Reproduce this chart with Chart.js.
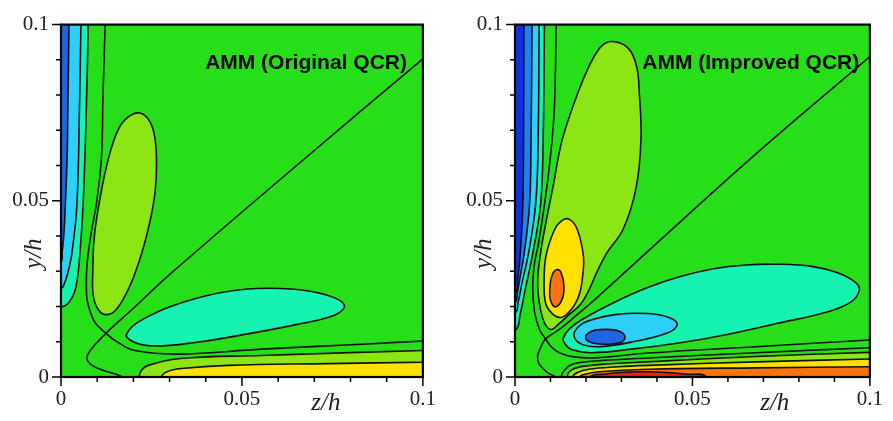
<!DOCTYPE html>
<html>
<head>
<meta charset="utf-8">
<script src="https://cdn.jsdelivr.net/npm/chart.js@4.4.1/dist/chart.umd.min.js"></script>
<style>
  html, body { margin: 0; padding: 0; background: #fff; }
  .wrap { display: flex; width: 893px; height: 421px; }
</style>
</head>
<body>
<div class="wrap">
  <canvas id="chart1" width="446" height="421"></canvas>
  <canvas id="chart2" width="447" height="421"></canvas>
</div>
<script>
// contour lines, [z/h, y/h] in units of 0.001
// tick labels
const tickValues = [0, 0.05, 0.1]
const tickLabels = ['0', '0.05', '0.1']

// left panel: AMM (Original QCR)
const origWallAqua = [[-8,110],[7.5,110],[7.5,100],[7.0,76.5],[6.1,48.9],[5.0,32.3],[4.1,25.4],[3.0,22.4],[1.4,20.4],[0,19.9],[-8,19.6]]
const origWallCyan = [[-8,110],[5.5,110],[5.5,100],[5.1,76.5],[4.4,48.9],[3.0,35.1],[1.9,29.6],[0.8,26.2],[0,25.1],[-8,24.8]]
const origWallBlue = [[-8,110],[2.2,110],[2.2,100],[1.9,76.5],[1.7,62.7],[1.2,48.9],[0.8,40.6],[0.3,35.1],[0,32.9],[-8,32.6]]
const origLobeYG = [[21.8,74.9],[24.6,72.4],[26.0,67.4],[26.4,59.9],[26.0,52.5],[24.6,44.2],[22.3,35.1],[19.1,26.0],[15.4,19.3],[12.6,17.7],[10.3,19.1],[8.9,23.2],[8.8,30.4],[9.2,39.8],[10.8,50.8],[13.1,61.9],[15.8,70.2],[18.6,73.8]]
const origLobeAqua = [[18.1,12.1],[23.2,16.7],[37.0,22.2],[50.8,24.9],[64.6,24.9],[73.8,23.1],[78.3,20.4],[75.7,17.6],[64.6,14.8],[50.8,12.1],[37.0,9.8],[26.0,8.8],[20.4,9.8]]
const origBandYG = [[114,-12],[21.6,-12],[21.6,0],[22.3,2.0],[24.1,3.3],[32.4,5.2],[55.4,6.1],[100,7.5],[114,7.8]]
const origBandYellow = [[114,-12],[27.8,-12],[27.8,0],[29.3,1.5],[33.3,2.4],[46.2,3.3],[73.8,3.8],[100,4.2],[114,4.3]]
const origZeroA = [[12.3,108],[12.2,100],[11.6,80],[11.2,62.7],[9.9,50],[8.2,40],[7.2,32],[7.0,26],[7.3,21.5],[9.2,15.8],[12.4,12.4],[15.8,9.8],[20.4,7.5],[32.4,6.5],[55.4,7.9],[83.1,9.3],[100,10.2],[108,10.5]]
const origZeroB = [[19.5,-1.2],[15.2,0.8],[11.6,1.9],[8.6,3.3],[7.2,5.0],[7.7,6.9],[9.9,9.7],[12.4,12.4],[20,19.5],[30.6,29.6],[66,60.8],[100,90.3],[108,97.2]]

// right panel: AMM (Improved QCR)
const imprWallAqua = [[-8,110],[8.3,110],[8.3,100],[7.9,65.5],[7.2,48.9],[5.0,35.1],[3.0,25.4],[1.5,18.0],[0,13.3],[-8,12.8]]
const imprWallCyan = [[-8,110],[6.8,110],[6.8,100],[6.5,65.5],[5.8,48.9],[3.8,35.1],[2.0,26.8],[0.9,21.3],[0,18.2],[-8,17.8]]
const imprWallBlue = [[-8,110],[4.8,110],[4.8,100],[4.5,65.5],[4.1,48.9],[2.6,35.1],[1.4,28.2],[0.6,23.5],[0,21.3],[-8,21]]
const imprWallDark = [[-8,110],[2.5,110],[2.5,100],[2.4,65.5],[2.2,48.9],[1.5,35.1],[0.8,28.2],[0,24.0],[-8,23.7]]
const imprLobeYG = [[27.6,95.2],[30.5,94.4],[32.7,92.3],[34.4,87.5],[35.0,81.1],[35.5,67.4],[34.1,53.6],[30.5,42.0],[25.8,35.1],[23.0,29.6],[20.8,24.6],[18.3,20.4],[15.2,17.7],[12.5,15.2],[10.0,13.5],[7.8,16.7],[6.4,25.9],[7.2,35.1],[8.9,44.8],[10.8,54.4],[13.3,67.3],[17.9,81.1],[21.0,88.5],[23.6,93.0],[25.5,94.8]]
const imprLobeYellow = [[15.2,44.8],[17.5,42.0],[19.3,34.2],[19.1,29.0],[18.3,24.0],[16.9,20.7],[15.0,18.2],[13.0,16.9],[10.8,17.7],[8.7,20.7],[8.2,26.8],[8.7,34.2],[11.0,41.5],[13.0,44.2]]
const imprLobeOrange = [[11.9,30.5],[13.0,29.6],[13.8,25.9],[13.3,22.1],[11.4,19.9],[10.0,21.8],[9.8,24.9],[10.5,29.0]]
const imprLobeAqua = [[13.6,11.0],[15.2,13.5],[18.9,16.3],[28.2,21.3],[37.4,25.4],[46.6,28.5],[55.9,30.7],[65.1,31.8],[74.3,32.0],[83.6,31.4],[90.9,29.6],[96.0,26.8],[97.0,24.5],[94.7,21.3],[88.2,18.5],[74.3,15.3],[60.5,12.2],[46.6,9.7],[32.8,7.9],[21.6,6.9],[16.1,7.7],[14.1,9.4]]
const imprLobeCyan = [[16.6,11.9],[18.0,14.4],[20.8,16.0],[28.2,17.7],[37.4,18.0],[43.9,16.7],[45.7,14.8],[42.9,12.5],[32.8,9.9],[23.5,8.6],[18.6,9.4]]
const imprLobeBlue = [[19.9,11.3],[21.6,13.0],[25.5,13.5],[29.4,13.0],[31.0,11.3],[29.4,9.7],[25.5,9.3],[21.6,9.7]]
const imprBandGreen = [[114,-12],[13.0,-12],[13.0,0],[13.9,1.9],[16.1,3.6],[20.8,4.4],[37.4,5.4],[67.9,6.9],[100,8.3],[114,8.7]]
const imprBandYG = [[114,-12],[14.7,-12],[14.7,0],[15.5,1.7],[18.0,2.8],[23.5,3.5],[37.4,4.3],[67.9,5.8],[100,7.0],[114,7.4]]
const imprBandYellow = [[114,-12],[16.3,-12],[16.3,0],[17.5,1.2],[20.8,2.2],[29.1,2.9],[37.4,3.3],[67.9,4.3],[100,5.1],[114,5.5]]
const imprBandOrange = [[114,-12],[18.3,-12],[18.3,0],[19.7,0.8],[23.5,1.5],[37.4,2.2],[67.9,2.6],[100,2.9],[114,3.0]]
const imprBandRed = [[54,-6],[21.3,-6],[21.3,0],[24.9,0.8],[31.9,1.4],[40.2,1.4],[48.5,0.8],[54.0,0]]
const imprZeroA = [[11.7,108],[11.6,100],[11.1,76.5],[10.0,62.7],[8.3,48.9],[6.6,37.8],[5.5,32.3],[5.0,25.4],[5.5,18.5],[6.9,13.5],[8.6,10.8],[10.2,8.6],[12.5,6.9],[16.6,5.7],[23.5,5.5],[37.4,6.8],[67.9,8.6],[100,10.5],[108,10.9]]
const imprZeroB = [[12.5,-1.5],[11.4,0],[9.4,1.1],[7.8,2.5],[6.6,4.1],[6.4,6.1],[7.2,8.3],[8.6,10.8],[12.5,13.5],[16.6,16.9],[23.5,22.9],[36.8,35.1],[67.9,63.3],[100,90.9],[108,97.9]]

// colours
const green = '#26df18'
const yellowGreen = '#8ce614'
const yellow = '#ffe100'
const orange = '#fc7410'
const red = '#ee2010'
const aqua = '#16f2b0'
const cyan = '#2dd0f8'
const blue = '#1f80ee'
const midBlue = '#1e64e4'
const darkBlue = '#1030dd'

const k = 0.001
const toPts = arr => arr.map(([z, y]) => ({x: z * k, y: y * k}))

function region(arr, color) {
  return {data: toPts(arr), closed: true, fill: 'shape', backgroundColor: color,
    borderColor: '#111', borderWidth: 1.6, pointRadius: 0, tension: 0.4}
}
function contour(arr) {
  return {data: toPts(arr), fill: false, borderColor: '#111', borderWidth: 1.6,
    pointRadius: 0, tension: 0.4}
}
// painter order: first item lowest
function stack(layers) {
  return layers.map((d, i) => ({...d, order: layers.length - i}))
}

const contourPlugin = {
  id: 'contour',
  afterDatasetUpdate(chart, args) {
    if (chart.data.datasets[args.index].closed) {
      args.meta.dataset._loop = true
      args.meta.dataset._fullLoop = true
    }
  },
  beforeDatasetsDraw(chart) {
    const {ctx, chartArea: a} = chart
    ctx.save()
    ctx.fillStyle = green
    ctx.fillRect(a.left, a.top, a.right - a.left, a.bottom - a.top)
    ctx.restore()
  },
  afterDraw(chart, args, opts) {
    const {ctx, chartArea: a, scales: {x, y}} = chart
    ctx.save()
    ctx.strokeStyle = '#000'
    ctx.lineWidth = 1.5
    ctx.beginPath()
    x.ticks.forEach(t => {
      const px = x.getPixelForValue(t.value)
      ctx.moveTo(px, a.bottom)
      ctx.lineTo(px, a.bottom + (t.label ? 9 : 5))
    })
    y.ticks.forEach(t => {
      const py = y.getPixelForValue(t.value)
      ctx.moveTo(a.left, py)
      ctx.lineTo(a.left - (t.label ? 9 : 5), py)
    })
    ctx.stroke()
    ctx.lineWidth = 2.2
    ctx.strokeRect(a.left, a.top, a.right - a.left, a.bottom - a.top)

    ctx.fillStyle = '#222'
    ctx.font = 'italic 25px "Liberation Serif", serif'
    ctx.textAlign = 'center'
    ctx.textBaseline = 'middle'
    ctx.fillText('z/h', x.getPixelForValue(0.0732), a.bottom + 26)
    ctx.save()
    ctx.translate(a.left - opts.yTitleGap, y.getPixelForValue(0.035))
    ctx.rotate(-Math.PI / 2)
    ctx.fillText('y/h', 0, 0)
    ctx.restore()

    ctx.fillStyle = '#000'
    ctx.font = 'bold 21px "Liberation Sans", Arial, sans-serif'
    ctx.textAlign = 'right'
    ctx.fillText(opts.label, x.getPixelForValue(opts.labelAt[0]), y.getPixelForValue(opts.labelAt[1]))
    ctx.restore()
  }
}

function makeConfig(datasets, yWidth, padRight, label, labelAt, yTitleGap) {
  const tickFont = {family: '"Liberation Serif", serif', size: 21}
  const tickCb = v => {
    const i = tickValues.findIndex(t => Math.abs(t - v) < 1e-9)
    return i >= 0 ? tickLabels[i] : ''
  }
  return {
    type: 'line',
    data: {datasets},
    plugins: [contourPlugin],
    options: {
      responsive: false,
      animation: false,
      elements: {line: {capBezierPoints: false}},
      layout: {padding: {left: 0, right: padRight, top: 15, bottom: 0}},
      plugins: {
        legend: {display: false},
        tooltip: {enabled: false},
        contour: {label, labelAt, yTitleGap}
      },
      scales: {
        x: {
          type: 'linear', min: 0, max: 0.1,
          grid: {display: false, drawTicks: false},
          border: {display: false},
          ticks: {stepSize: 0.01, autoSkip: false, maxRotation: 0, padding: 10,
            color: '#222', font: tickFont, callback: tickCb},
          afterFit: s => { s.height = 44 }
        },
        y: {
          type: 'linear', min: 0, max: 0.1,
          grid: {display: false, drawTicks: false},
          border: {display: false},
          ticks: {stepSize: 0.01, autoSkip: false, padding: 12,
            color: '#222', font: tickFont, callback: tickCb},
          afterFit: s => { s.width = yWidth }
        }
      }
    }
  }
}

const leftSets = stack([
  region(origWallAqua, aqua),
  region(origWallCyan, cyan),
  region(origWallBlue, midBlue),
  region(origLobeYG, yellowGreen),
  region(origLobeAqua, aqua),
  region(origBandYG, yellowGreen),
  region(origBandYellow, yellow),
  contour(origZeroA),
  contour(origZeroB)
])

const rightSets = stack([
  region(imprWallAqua, aqua),
  region(imprWallCyan, cyan),
  region(imprWallBlue, blue),
  region(imprWallDark, darkBlue),
  region(imprLobeYG, yellowGreen),
  region(imprLobeYellow, yellow),
  region(imprLobeOrange, orange),
  region(imprLobeAqua, aqua),
  region(imprLobeCyan, cyan),
  region(imprLobeBlue, midBlue),
  region(imprBandGreen, green),
  region(imprBandYG, yellowGreen),
  region(imprBandYellow, yellow),
  region(imprBandOrange, orange),
  region(imprBandRed, red),
  contour(imprZeroA),
  contour(imprZeroB)
])

const myChart1 = new Chart(document.getElementById('chart1'),
  makeConfig(leftSets, 61, 23, 'AMM (Original QCR)', [0.0956, 0.089], 27))
const myChart2 = new Chart(document.getElementById('chart2'),
  makeConfig(rightSets, 69, 17, 'AMM (Improved QCR)', [0.097, 0.089], 31))
</script>
</body>
</html>
